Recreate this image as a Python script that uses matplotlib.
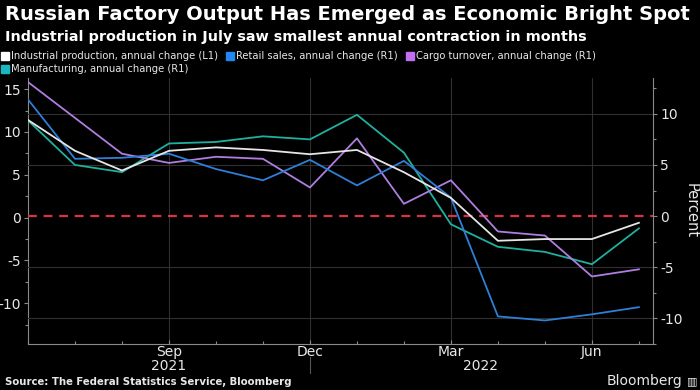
import matplotlib
matplotlib.use("Agg")
import matplotlib.pyplot as plt
from matplotlib.lines import Line2D
import numpy as np

months = ["Jun 2021", "Jul 2021", "Aug 2021", "Sep 2021", "Oct 2021", "Nov 2021", "Dec 2021",
          "Jan 2022", "Feb 2022", "Mar 2022", "Apr 2022", "May 2022", "Jun 2022", "Jul 2022"]
industrial = [11.4, 7.8, 5.5, 7.8, 8.2, 7.9, 7.4, 7.9, 5.3, 2.3, -2.7, -2.5, -2.5, -0.6]   # L1
retail = [11.4, 5.6, 5.7, 6.1, 4.6, 3.5, 5.5, 3.0, 5.4, 1.8, -9.8, -10.2, -9.6, -8.9]      # R1
cargo = [13.1, 9.6, 6.1, 5.2, 5.8, 5.6, 2.8, 7.6, 1.2, 3.5, -1.5, -1.9, -5.9, -5.2]        # R1
manufacturing = [9.35, 5.0, 4.3, 7.1, 7.25, 7.8, 7.5, 9.9, 6.2, -0.8, -3.0, -3.5, -4.7, -1.2]  # R1

major_idx = [3, 6, 9, 12]
major_labels = ["Sep\n2021", "Dec", "Mar", "Jun"]
left_ticks = [15, 10, 5, 0, -5, -10]
right_ticks = [10, 5, 0, -5, -10]

title = "Russian Factory Output Has Emerged as Economic Bright Spot"
subtitle = "Industrial production in July saw smallest annual contraction in months"
source = "Source: The Federal Statistics Service, Bloomberg"

c_white = "#e6e6e6"
c_blue = "#2f7fd6"
c_purple = "#b07ee0"
c_teal = "#1fb0a0"
grid_c = "#303030"
spine_c = "#8a8a8a"
txt_c = "#e8e8e8"

plt.rcParams['font.family'] = ['DejaVu Sans']

fig = plt.figure(figsize=(7.0, 3.9), dpi=100, facecolor="black")
ax = fig.add_axes([28/700, 1-344/390, (653-28)/700, (344-78)/390])
ax.set_facecolor("black")
ax2 = ax.twinx()

x = np.arange(len(months))
ax.set_xlim(0, 13.3)
ax.set_ylim(-14.75, 16.3)
ax2.set_ylim(-12.4, 13.5)

# grid following right axis
for v in [10, 5, -5, -10]:
    ax2.axhline(v, color=grid_c, lw=0.8, zorder=0)
for i in major_idx:
    ax.axvline(i, color=grid_c, lw=0.8, zorder=0)
ax2.axhline(0, color="#d63248", lw=1.6, ls=(0, (4, 3)), zorder=1)

ax2.plot(x, manufacturing, color=c_teal, lw=1.3, zorder=3)
ax2.plot(x, cargo, color=c_purple, lw=1.3, zorder=3)
ax2.plot(x, retail, color=c_blue, lw=1.3, zorder=3)
ax2.plot(x, industrial, color=c_white, lw=1.3, zorder=4, transform=ax.transData)

ax.set_yticks(left_ticks)
ax.set_yticklabels([str(v) for v in left_ticks])
ax.set_yticks(np.arange(-12.5, 16, 2.5), minor=True)
ax2.set_yticks(right_ticks)
ax2.set_yticklabels([str(v) for v in right_ticks])
ax2.set_yticks(np.arange(-12.5, 13.5, 2.5), minor=True)

ax.set_xticks(major_idx)
ax.set_xticklabels(major_labels, linespacing=1.0)
ax.set_xticks(x, minor=True)

for a in (ax, ax2):
    for s in a.spines.values():
        s.set_color(spine_c)
    a.spines['top'].set_visible(False)
    a.tick_params(colors=txt_c, labelsize=10, length=3, width=0.8, color=spine_c)
    a.tick_params(which='minor', length=2, width=0.8, color=spine_c)
ax.spines['right'].set_visible(False)
ax2.spines['left'].set_visible(False)
ax2.spines['bottom'].set_visible(False)
ax.tick_params(axis='x', which='both', direction='in', pad=1)
ax.tick_params(axis='y', pad=2)
ax2.tick_params(axis='y', pad=2)

# year label and year separator
ax.text((481-28)/47.0, -(366-344)/266, "2022", transform=ax.get_xaxis_transform(),
        ha='center', va='center', color=txt_c, fontsize=10)
ax.plot([6, 6], [-(357-344)/266, -(373-344)/266], transform=ax.get_xaxis_transform(),
        color="#555555", lw=0.8, clip_on=False)

ax2.set_ylabel("Percent", rotation=270, color=txt_c, fontsize=10.5, labelpad=12)

fig.text(5/700, 1-15/390, title, color="white", fontsize=14.0, fontweight='bold', va='center', ha='left')
fig.text(5/700, 1-37/390, subtitle, color="white", fontsize=10.4, fontweight='bold', va='center', ha='left')
fig.text(5/700, 1-382/390, source, color=txt_c, fontsize=7.3, fontweight='bold', va='center', ha='left')
fig.text(682/700, 1-381/390, "Bloomberg", color=txt_c, fontsize=10, va='center', ha='right')
fig.text(692/700, 1-381/390, "\u25A5", color=txt_c, fontsize=8, va='center', ha='center')

handles = [Line2D([], [], marker='s', ls='none', color=c, markersize=6)
           for c in ["#ffffff", "#18b8c0", "#2088f0", "#c070f0"]]
labels = ["Industrial production, annual change (L1)", "Manufacturing, annual change (R1)",
          "Retail sales, annual change (R1)", "Cargo turnover, annual change (R1)"]
leg = fig.legend(handles, labels, loc='upper left', bbox_to_anchor=(0, 1-49/390), ncol=3,
                 frameon=False, fontsize=7.2, handlelength=0.6, handletextpad=0.3,
                 columnspacing=0.9, labelspacing=0.35, borderaxespad=0, borderpad=0.2,
                 labelcolor=txt_c)

fig.savefig("out.png", dpi=100, facecolor="black")
